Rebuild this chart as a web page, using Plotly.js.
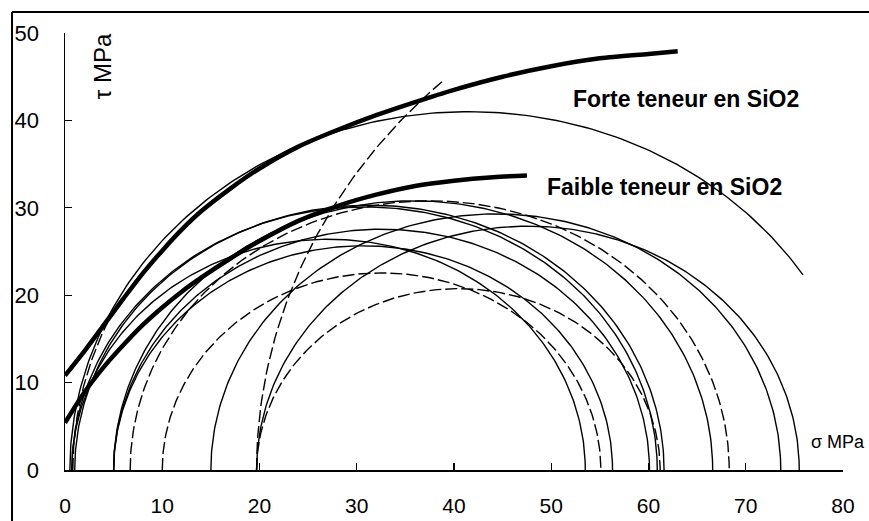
<!DOCTYPE html>
<html>
<head>
<meta charset="utf-8">
<script src="https://cdn.plot.ly/plotly-3.0.1.min.js"></script>
<style>html,body{margin:0;padding:0;background:#fff;}#chart{width:869px;height:521px;}</style>
</head>
<body>
<div id="chart"></div>
<script>
// ---- Data ----
// Envelope "Forte teneur en SiO2" (sigma, tau in MPa)
const forteSigma = [0, 2, 4, 6, 8, 10, 12, 14, 17, 20, 24, 28, 32, 36, 40, 45, 50, 55, 60, 63];
const forteTau   = [10.8, 13.6, 16.6, 19.6, 22.5, 25.1, 27.5, 29.6, 32.2, 34.5, 37.0, 38.9, 40.6, 42.1, 43.5, 45.0, 46.2, 47.1, 47.6, 47.9];
// Envelope "Faible teneur en SiO2"
const faibleSigma = [0, 2, 4, 6, 8, 10, 12, 14, 17, 20, 24, 28, 32, 36, 40, 44, 47.5];
const faibleTau   = [5.4, 8.9, 11.8, 14.3, 16.6, 18.6, 20.4, 22.0, 24.2, 26.2, 28.5, 30.2, 31.5, 32.5, 33.1, 33.5, 33.7];

// Mohr circles: sigma3 (left intercept), sigma1 (right intercept), last sigma drawn
const circleSigma3 = [0.7, 0.7, 1.0, 5.0, 5.0, 5.0, 15.0, 19.7, 0.5, 10.0, 19.7, 6.7, 0.8, 19.7];
const circleSigma1 = [53.5, 60.9, 61.6, 56.3, 60.1, 66.6, 73.6, 75.5, 82.5, 55.1, 61.2, 68.3, 84.2, 142.3];
const circleDrawTo = [53.5, 60.9, 61.6, 56.3, 60.1, 66.6, 73.6, 75.5, 76.0, 55.1, 61.2, 68.3, 4.8, 38.9];
const circleDashed = [false, false, false, false, false, false, false, false, false, true, true, true, true, true];

// Text
const xTitle = "σ MPa";
const yTitle = "τ MPa";
const labelForte = "Forte teneur en SiO2";
const labelFaible = "Faible teneur en SiO2";

// ---- Build traces ----
const traces = [];
for (let i = 0; i < circleSigma3.length; i++) {
  const c = (circleSigma3[i] + circleSigma1[i]) / 2;
  const r = (circleSigma1[i] - circleSigma3[i]) / 2;
  const xs = [], ys = [];
  const n = 240;
  for (let k = 0; k <= n; k++) {
    const th = Math.PI - Math.PI * k / n;
    const x = c + r * Math.cos(th);
    if (x > circleDrawTo[i]) break;
    xs.push(x); ys.push(r * Math.sin(th));
  }
  traces.push({
    x: xs, y: ys, type: 'scatter', mode: 'lines', hoverinfo: 'skip',
    line: {color: '#000', width: 1.4, dash: circleDashed[i] ? '12px,4px' : 'solid'}
  });
}
traces.push({x: faibleSigma, y: faibleTau, type: 'scatter', mode: 'lines',
  line: {color: '#000', width: 4.5, shape: 'spline', smoothing: 0.8}});
traces.push({x: forteSigma, y: forteTau, type: 'scatter', mode: 'lines',
  line: {color: '#000', width: 4.5, shape: 'spline', smoothing: 0.8}});

const font = 'Liberation Sans, Arial, sans-serif';
const layout = {
  width: 869, height: 521,
  margin: {l: 65, r: 26, t: 33, b: 51},
  paper_bgcolor: '#fff', plot_bgcolor: '#fff',
  showlegend: false,
  font: {family: font, color: '#000'},
  xaxis: {range: [0, 80], dtick: 10, showgrid: false, zeroline: false,
    showline: true, linecolor: '#000', linewidth: 1.5,
    ticks: 'inside', ticklen: 7, tickwidth: 1.3, tickcolor: '#000',
    tickfont: {family: font, size: 21, color: '#000'}, ticklabelstandoff: 16},
  yaxis: {range: [0, 50], dtick: 10, showgrid: false, zeroline: false,
    showline: true, linecolor: '#000', linewidth: 1.5,
    ticks: 'inside', ticklen: 7, tickwidth: 1.3, tickcolor: '#000',
    tickfont: {family: font, size: 22, color: '#000'}, ticklabelstandoff: 20},
  annotations: [
    {text: yTitle, x: 3.8, y: 46.2, xref: 'x', yref: 'y', textangle: -90, showarrow: false,
     font: {family: font, size: 24, color: '#000'}},
    {text: xTitle, x: 1.031, y: 0.064, xref: 'paper', yref: 'paper', xanchor: 'right', yanchor: 'middle',
     showarrow: false, font: {family: font, size: 18, color: '#000'}},
    {text: '<b>' + labelForte + '</b>', x: 63.9, y: 42.4, xref: 'x', yref: 'y', showarrow: false,
     font: {family: font, size: 23, color: '#000'}},
    {text: '<b>' + labelFaible + '</b>', x: 61.6, y: 32.4, xref: 'x', yref: 'y', showarrow: false,
     font: {family: font, size: 23, color: '#000'}}
  ],
  shapes: [
    {type: 'line', xref: 'paper', yref: 'paper', x0: -0.0681, x1: -0.0681, y0: 1.048, y1: -0.2,
     line: {color: '#000', width: 2}},
    {type: 'line', xref: 'paper', yref: 'paper', x0: -0.0681, x1: 1.1, y0: 1.048, y1: 1.048,
     line: {color: '#000', width: 2}}
  ]
};
Plotly.newPlot('chart', traces, layout, {displayModeBar: false, staticPlot: true});
</script>
</body>
</html>
